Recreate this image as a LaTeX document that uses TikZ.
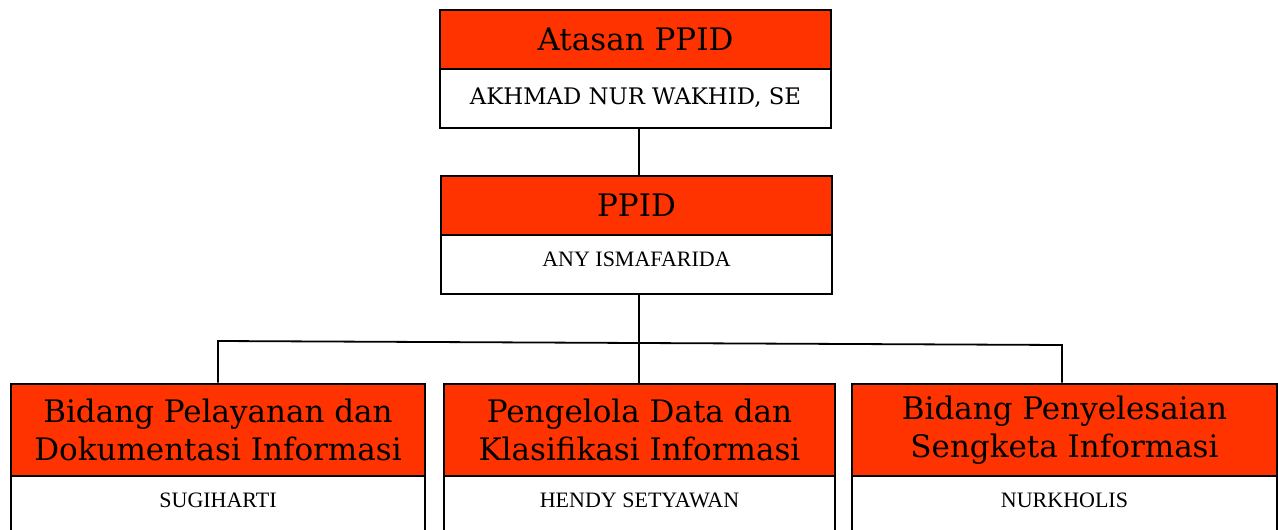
\documentclass[tikz,border=0pt]{standalone}
\usepackage{fontspec}
\setmainfont{Liberation Serif}
\newfontfamily\headfont{DejaVu Serif}
\definecolor{hdr}{RGB}{255,51,0}
\begin{document}
\begin{tikzpicture}[x=1pt,y=-1pt,
  hdrbox/.style={draw=black,line width=2.6pt,fill=hdr,inner sep=0pt,align=center,font=\headfont\fontsize{31}{37.5}\selectfont},
  namebox/.style={draw=black,line width=2pt,fill=white,inner sep=0pt},
  nametext/.style={anchor=base,inner sep=0pt,font=\fontsize{22}{26}\selectfont},
  conn/.style={draw=black,line width=1.8pt}]
\useasboundingbox (0,0) rectangle (1278,530);
\clip (0,0) rectangle (1278,530);
% top
\node[namebox,minimum width=391pt,minimum height=59pt] (n1) at (635.5,98.5) {};
\node[hdrbox,minimum width=391pt,minimum height=59pt] (h1) at (635.5,39.5) {Atasan PPID};
\node[nametext,font=\headfont\fontsize{22.8}{26}\selectfont] (t1) at (635.5,104) {AKHMAD NUR WAKHID, SE};
% PPID
\node[namebox,minimum width=391pt,minimum height=59pt] (n2) at (636.5,264.5) {};
\node[hdrbox,minimum width=391pt,minimum height=59pt] (h2) at (636.5,205.5) {PPID};
\node[nametext] (t2) at (636.5,266) {ANY ISMAFARIDA};
% bottom row
\node[namebox,minimum width=414pt,minimum height=100pt] (n3) at (218,526) {};
\node[hdrbox,minimum width=414pt,minimum height=92pt] (h3) at (218,430) {Bidang Pelayanan dan\\Dokumentasi Informasi};
\node[nametext] (t3) at (218,507) {SUGIHARTI};
\node[namebox,minimum width=391pt,minimum height=100pt] (n4) at (639.5,526) {};
\node[hdrbox,minimum width=391pt,minimum height=92pt] (h4) at (639.5,430) {Pengelola Data dan\\Klasifikasi Informasi};
\node[nametext] (t4) at (639.5,507) {HENDY SETYAWAN};
\node[namebox,minimum width=425pt,minimum height=100pt] (n5) at (1064.5,526) {};
\node[hdrbox,minimum width=425pt,minimum height=92pt] (h5) at (1064.5,430) {Bidang Penyelesaian\\Sengketa Informasi};
\node[nametext] (t5) at (1064.5,507) {NURKHOLIS};
% connectors
\coordinate (hub) at (639,294);
\coordinate (busL) at (218,341);
\coordinate (busR) at (1062,345);
\draw[conn] (n1.south -| hub) -- (h2.north -| hub);
\draw[conn] (n2.south -| hub) -- (h4.north -| hub);
\draw[conn] (h3.north -| busL) -- (busL) -- (busR) -- (h5.north -| busR);
\end{tikzpicture}
\end{document}
